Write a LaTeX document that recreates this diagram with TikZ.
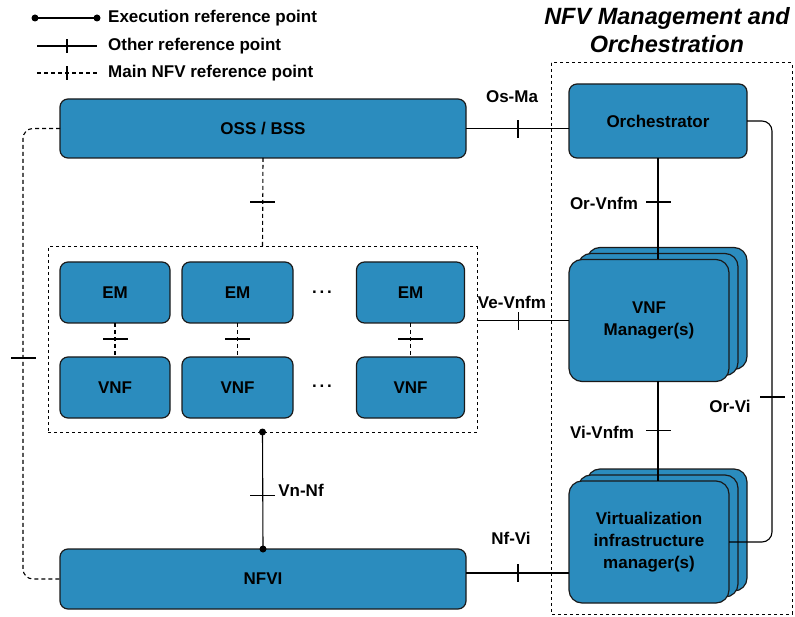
\documentclass[tikz,border=0pt]{standalone}
\usepackage{fontspec}
\setmainfont{Liberation Sans}
\usetikzlibrary{calc}

\definecolor{nfvblue}{HTML}{2B8CBE}
\definecolor{boxline}{HTML}{1A1A1A}

\tikzset{
  block/.style={draw=boxline, fill=nfvblue, line width=1.2pt, rounded corners=8pt,
    inner sep=0pt, outer sep=0pt, align=center, font=\bfseries\fontsize{17}{22}\selectfont},
  stackbox/.style={block, rounded corners=13pt, minimum width=160pt, minimum height=122pt},
  group/.style={draw=black, dashed, line width=1pt, inner sep=0pt, outer sep=0pt},
  conn/.style={draw=black, line width=1.1pt},
  mainconn/.style={conn, line width=1.1pt, dash pattern=on 4pt off 3pt},
  vtick/.style={draw=black, solid, line width=0.6pt, minimum width=0.6pt, minimum height=17pt, inner sep=0pt, fill=black},
  htick/.style={draw=black, solid, line width=0.6pt, minimum width=24pt, minimum height=0.6pt, inner sep=0pt, fill=black},
  lbl/.style={font=\bfseries\fontsize{17}{20}\selectfont, inner sep=0pt},
  dot/.style={circle, fill=black, inner sep=0pt, minimum size=7pt}
}

\begin{document}
\begin{tikzpicture}[x=1pt, y=-1pt]

    \useasboundingbox (0,0) rectangle (795,617);

    % Legend
    \coordinate (exA) at (35,18);
    \coordinate (exB) at (97,18);
    \coordinate (otA) at (37,46);
    \coordinate (otB) at (97,46);
    \coordinate (mnA) at (37,73);
    \coordinate (mnB) at (97,73);
    \draw[conn] (exA) -- (exB);
    \node[dot] at (exA) {};
    \node[dot] at (exB) {};
    \draw[conn] (otA) -- node[vtick, minimum height=13pt, pos=0.5] {} (otB);
    \draw[mainconn] (mnA) -- node[vtick, minimum height=13pt, pos=0.5] {} (mnB);
    \node[lbl, anchor=west] (exText) at (108,18) {Execution reference point};
    \node[lbl, anchor=west] (otText) at (108,46) {Other reference point};
    \node[lbl, anchor=west] (mnText) at (108,73) {Main NFV reference point};

    % MANO area
    \draw[group] (551,63) rectangle (792,614);
    \node[font=\bfseries\itshape\fontsize{23.5}{28}\selectfont, align=center] (manoTitle)
        at (667,30) {NFV Management and\\Orchestration};

    % Main blocks
    \node[block, minimum width=406pt, minimum height=59pt] (oss) at (263,128.5) {OSS / BSS};
    \node[block, minimum width=406pt, minimum height=60pt] (nfvi) at (263,579) {NFVI};
    \node[block, minimum width=178pt, minimum height=74pt] (orch) at (658,121) {Orchestrator};

    % VNF Manager(s) stack
    \node[stackbox] (vnfmC) at (667,308.5) {};
    \node[stackbox] (vnfmB) at (658,314.5) {};
    \node[stackbox] (vnfm) at (649,320.5) {VNF\\Manager(s)};

    % VIM stack
    \node[stackbox] (vimC) at (667,530) {};
    \node[stackbox] (vimB) at (658,536) {};
    \node[stackbox] (vim) at (649,542) {Virtualization\\infrastructure\\manager(s)};

    % EM / VNF group
    \node[group, minimum width=429pt, minimum height=185pt] (grp) at (262.5,339.5) {};
    \node[block, minimum width=110pt, minimum height=61pt] (emA) at (115,292.5) {EM};
    \node[block, minimum width=111pt, minimum height=61pt] (emB) at (237.5,292.5) {EM};
    \node[block, minimum width=108pt, minimum height=61pt] (emC) at (410.5,292.5) {EM};
    \node[block, minimum width=110pt, minimum height=61pt] (vnfA) at (115,387.5) {VNF};
    \node[block, minimum width=111pt, minimum height=61pt] (vnfB) at (237.5,387.5) {VNF};
    \node[block, minimum width=108pt, minimum height=61pt] (vnfC) at (410.5,387.5) {VNF};
    \node[lbl] (dotsEM) at (322,292) {.\,.\,.};
    \node[lbl] (dotsVNF) at (322,386) {.\,.\,.};

    \draw[mainconn] (emA) -- node[htick, pos=0.47] {} (vnfA);
    \draw[mainconn] (emB) -- node[htick, pos=0.47] {} (vnfB);
    \draw[mainconn] (emC) -- node[htick, pos=0.47] {} (vnfC);

    % Reference points
    \draw[mainconn] (oss.south) -- node[htick, pos=0.49] {} (grp.north);
    \draw[mainconn, rounded corners=10pt] (oss.west) -| (23,358) |- (nfvi.west);
    \node[htick] (leftTick) at (23,358) {};

    \draw[conn] (grp.south) -- node[htick, pos=0.54] {} (nfvi.north);
    \node[dot] at (grp.south) {};
    \node[dot] at (nfvi.north) {};
    \node[lbl] (vnnf) at (301,490) {Vn-Nf};

    \draw[conn] (oss.east) -- node[vtick, pos=0.5] {} (oss.east -| orch.west);
    \node[lbl] (osma) at (512,97) {Os-Ma};

    \draw[conn] (grp.east |- vnfm.west) -- node[vtick, pos=0.45] {} (vnfm.west);
    \node[lbl] (vevnfm) at (512,302) {Ve-Vnfm};

    \draw[conn] ([yshift=6pt]nfvi.east) -- node[vtick, pos=0.5] {} ([yshift=6pt]nfvi.east -| vim.west);
    \node[lbl] (nfvi-lbl) at (511,538) {Nf-Vi};

    \draw[conn] (orch.south) -- node[htick, pos=0.43] {} (orch.south |- vnfm.north);
    \node[lbl] (orvnfm) at (604,203) {Or-Vnfm};

    \draw[conn] (orch.south |- vnfm.south) -- node[htick, pos=0.49] {} (orch.south |- vim.north);
    \node[lbl] (vivnfm) at (602,432) {Vi-Vnfm};

    \draw[conn, rounded corners=10pt] (orch.east) -| (772,330) |- (vim.east);
    \node[htick] (orviTick) at (772,397) {};
    \node[lbl] (orvi) at (730,406) {Or-Vi};

\end{tikzpicture}
\end{document}
